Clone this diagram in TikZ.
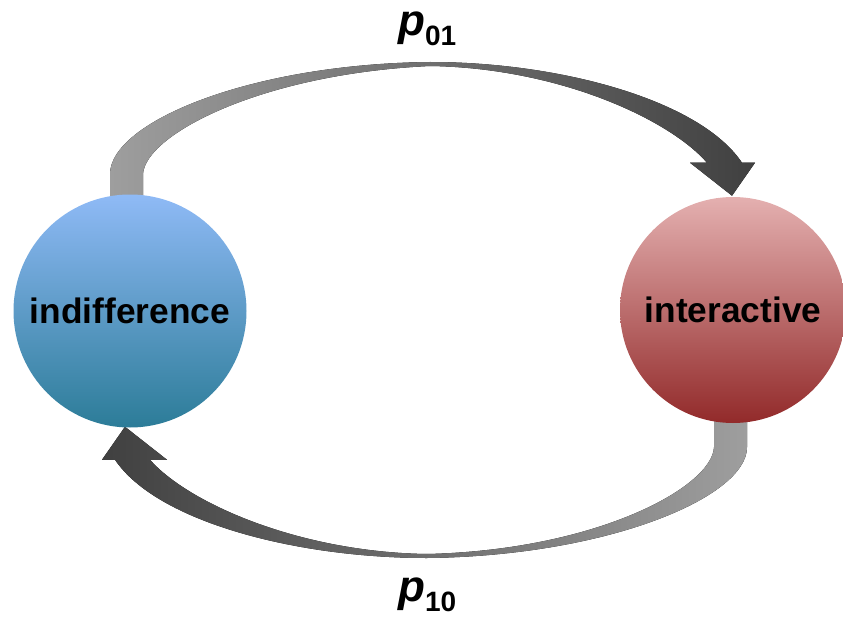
\documentclass[tikz,border=0pt]{standalone}
\usepackage{fontspec}
\setmainfont{Liberation Sans}
\usetikzlibrary{positioning,calc}
\definecolor{IndTop}{RGB}{143,186,246}
\definecolor{IndBot}{RGB}{44,124,152}
\definecolor{IntTop}{RGB}{228,176,176}
\definecolor{IntBot}{RGB}{146,42,42}
\definecolor{FlowLight}{RGB}{158,158,158}
\definecolor{FlowDark}{RGB}{64,64,64}
\tikzset{
  state/.style={circle,draw=none,inner sep=0pt,font=\bfseries\fontsize{26.5}{30}\selectfont},
  flow/.style={draw=none},
  rate/.style={inner sep=0pt,anchor=base west,font=\bfseries\fontsize{33}{36}\selectfont},
}

\begin{document}
\begin{tikzpicture}[x=0.75pt,y=-0.75pt]
\useasboundingbox (0,0) rectangle (843,617);
% states (drawn later on top of the flows)
\path (130,311) coordinate (cind);
\path (733,310) coordinate (cint);
\node[state,minimum size=174.75pt] (ind) at (cind) {\phantom{x}};
\node[state,minimum size=169.5pt] (int) at (cint) {\phantom{x}};
% flow from indifference to interactive
\fill[flow,left color=FlowLight,right color=FlowDark]
  ($(ind.north)+(-20,12)$) -- ($(ind.north)+(-20,-20)$)
  .. controls +(0,-52) and (250,64) .. (430,62)
  .. controls (560,62) and (700,100) .. ($(int.north)+(9,-34)$)
  -- ($(int.north)+(22,-34)$) -- ($(int.north)+(-1,-1)$) -- ($(int.north)+(-43,-34)$)
  -- ($(int.north)+(-26,-34)$)
  .. controls (670,120) and (560,68) .. (430,66)
  .. controls (260,74) and (145,135) .. ($(ind.north)+(13,-20)$)
  -- ($(ind.north)+(13,12)$) -- cycle;
% flow from interactive to indifference
\fill[flow,left color=FlowDark,right color=FlowLight]
  ($(int.south)+(14,-12)$) -- ($(int.south)+(14,24)$)
  .. controls +(0,50) and (607,556) .. (427,558)
  .. controls (297,558) and (157,522) .. ($(ind.south)+(-15,32)$)
  -- ($(ind.south)+(-28,32)$) -- ($(ind.south)+(-5,-1)$) -- ($(ind.south)+(37,32)$)
  -- ($(ind.south)+(20,32)$)
  .. controls (187,502) and (297,552) .. (427,554)
  .. controls (597,550) and (712,487) .. ($(int.south)+(-19,24)$)
  -- ($(int.south)+(-19,-12)$) -- cycle;
% circles
\node[state,minimum size=174.75pt,top color=IndTop,bottom color=IndBot] at (ind) {indifference};
\node[state,minimum size=169.5pt,top color=IntTop,bottom color=IntBot] at (int) {interactive};
% rates
\node[rate] (p01) at (398,36) {\itshape p\upshape\raisebox{-7.5pt}{\fontsize{21}{21}\selectfont 01}};
\node[rate] (p10) at (398,601) {\itshape p\upshape\raisebox{-7.5pt}{\fontsize{21}{21}\selectfont 10}};
\end{tikzpicture}
\end{document}
